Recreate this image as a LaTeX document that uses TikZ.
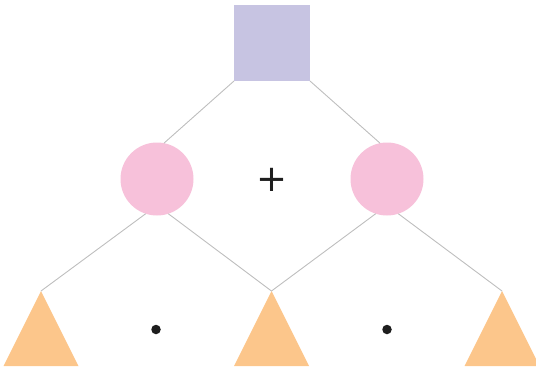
\documentclass[tikz,border=0pt]{standalone}
\usepackage{fontspec}
\newfontfamily\plusfont{DejaVu Sans}
\usepackage{tikz}
\definecolor{sqc}{RGB}{199,196,226}
\definecolor{cic}{RGB}{247,193,218}
\definecolor{trc}{RGB}{252,198,139}
\definecolor{lnc}{RGB}{190,190,190}
\definecolor{dkc}{RGB}{30,30,30}
\tikzset{
  sqbox/.style={fill=sqc, draw=none, minimum size=76pt, inner sep=0pt, outer sep=0pt},
  circnode/.style={circle, fill=cic, draw=none, minimum size=73pt, inner sep=0pt, outer sep=0pt},
  edge/.style={draw=lnc, line width=0.9pt},
  tri/.style={fill=trc, draw=none},
  dotnode/.style={circle, fill=dkc, minimum size=9.5pt, inner sep=0pt},
  plustext/.style={inner sep=0pt, text=dkc, font=\plusfont\fontsize{37}{37}\selectfont},
}
\begin{document}
\begin{tikzpicture}[x=1pt,y=-1pt]
\useasboundingbox (0,0) rectangle (536,369);
\node[sqbox] (sq) at (272,43) {};
\node[circnode] (c1) at (157,179) {};
\node[circnode] (c2) at (387,179) {};
\coordinate (t1) at (41,291);
\coordinate (t2) at (271.5,291);
\coordinate (t3) at (502,291);
\fill[tri] (t1) -- ++(37.5,75) -- ++(-75,0) -- cycle;
\fill[tri] (t2) -- ++(37.5,75) -- ++(-75,0) -- cycle;
\fill[tri] (t3) -- ++(37.5,75) -- ++(-75,0) -- cycle;
\draw[edge] (sq.south west) -- (c1.79);
\draw[edge] (sq.south east) -- (c2.101);
\draw[edge] (c1.252) -- (t1);
\draw[edge] (c1.288) -- (t2);
\draw[edge] (c2.252) -- (t2);
\draw[edge] (c2.288) -- (t3);
\node[plustext, anchor=base] (plus) at (271.7,191.5) {+};
\node[dotnode] (d1) at (156,329.5) {};
\node[dotnode] (d2) at (387,329.5) {};
\end{tikzpicture}
\end{document}
